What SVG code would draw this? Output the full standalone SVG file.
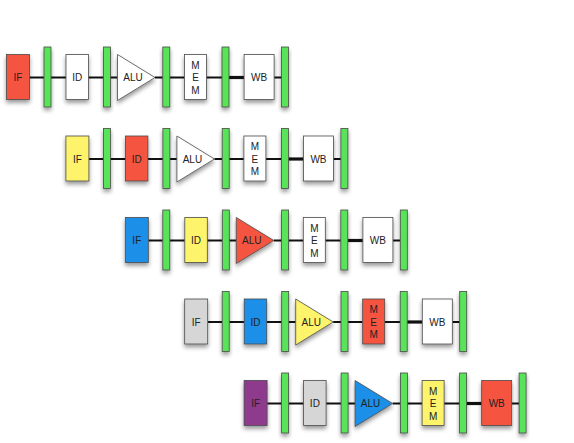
<svg xmlns="http://www.w3.org/2000/svg" width="574" height="443" viewBox="0 0 574 443">
<defs>
<filter id="sh" x="-50%" y="-50%" width="200%" height="200%">
<feDropShadow dx="0" dy="3" stdDeviation="2" flood-color="#000" flood-opacity="0.4"/>
</filter>
<style>
.s{stroke:#4a4a4a;stroke-width:0.8;filter:url(#sh)}
.bar{fill:#58E358}
.w{fill:#ffffff}
.r{fill:#F5543F}
.y{fill:#FDF46C}
.b{fill:#1C8FE8}
.g{fill:#D6D6D6}
.p{fill:#8E3B8E}
text{font-family:"Liberation Sans",Arial,sans-serif;font-size:10px;fill:#222;text-anchor:middle}
.ln{stroke:#111;stroke-width:2;fill:none}
.lt{stroke:#111;stroke-width:3.2;fill:none}
</style>
</defs>
<rect width="574" height="443" fill="#ffffff"/>
<g id="connectors">
<g transform="translate(6.5,77.5)">
<path class="ln" d="M23 0H37.5M44.5 0H59.5M82 0H97M104 0H111M148.5 0H156.3M163.3 0H178M200 0H215.5M267.6 0H275"/>
<path class="lt" d="M222.5 0H237.6"/>
</g>
<g transform="translate(65.9,159)">
<path class="ln" d="M23 0H37.5M44.5 0H59.5M82 0H97M104 0H111M148.5 0H156.3M163.3 0H178M200 0H215.5M267.6 0H275"/>
<path class="lt" d="M222.5 0H237.6"/>
</g>
<g transform="translate(125.3,240.5)">
<path class="ln" d="M23 0H37.5M44.5 0H59.5M82 0H97M104 0H111M148.5 0H156.3M163.3 0H178M200 0H215.5M267.6 0H275"/>
<path class="lt" d="M222.5 0H237.6"/>
</g>
<g transform="translate(184.7,322)">
<path class="ln" d="M23 0H37.5M44.5 0H59.5M82 0H97M104 0H111M148.5 0H156.3M163.3 0H178M200 0H215.5M267.6 0H275"/>
<path class="lt" d="M222.5 0H237.6"/>
</g>
<g transform="translate(244.1,403.5)">
<path class="ln" d="M23 0H37.5M44.5 0H59.5M82 0H97M104 0H111M148.5 0H156.3M163.3 0H178M200 0H215.5M267.6 0H275"/>
<path class="lt" d="M222.5 0H237.6"/>
</g>
</g>

<g id="row1" transform="translate(6.5,77.5)">
<g id="r1-if"><rect class="s r" x="0" y="-23" width="23" height="45"/><text x="11.5" y="3.6">IF</text></g>
<g id="r1-b1"><rect class="s bar" x="37.5" y="-30.5" width="7" height="60"/></g>
<g id="r1-id"><rect class="s w" x="59.5" y="-23" width="22.5" height="45"/><text x="70.75" y="3.6">ID</text></g>
<g id="r1-b2"><rect class="s bar" x="97" y="-30.5" width="7" height="60"/></g>
<g id="r1-alu"><polygon class="s w" points="111,-23 148.5,0 111,23"/><text x="126.5" y="3.6">ALU</text></g>
<g id="r1-b3"><rect class="s bar" x="156.3" y="-30.5" width="7" height="60"/></g>
<g id="r1-mem"><rect class="s w" x="178" y="-23" width="22" height="45"/><text x="189" y="-8.9">M</text><text x="189" y="3.6">E</text><text x="189" y="16.1">M</text></g>
<g id="r1-b4"><rect class="s bar" x="215.5" y="-30.5" width="7" height="60"/></g>
<g id="r1-wb"><rect class="s w" x="237.6" y="-23" width="30" height="45"/><text x="252.6" y="3.6">WB</text></g>
<g id="r1-b5"><rect class="s bar" x="275" y="-30.5" width="7" height="60"/></g>
</g>

<g id="row2" transform="translate(65.9,159)">
<g id="r2-if"><rect class="s y" x="0" y="-23" width="23" height="45"/><text x="11.5" y="3.6">IF</text></g>
<g id="r2-b1"><rect class="s bar" x="37.5" y="-30.5" width="7" height="60"/></g>
<g id="r2-id"><rect class="s r" x="59.5" y="-23" width="22.5" height="45"/><text x="70.75" y="3.6">ID</text></g>
<g id="r2-b2"><rect class="s bar" x="97" y="-30.5" width="7" height="60"/></g>
<g id="r2-alu"><polygon class="s w" points="111,-23 148.5,0 111,23"/><text x="126.5" y="3.6">ALU</text></g>
<g id="r2-b3"><rect class="s bar" x="156.3" y="-30.5" width="7" height="60"/></g>
<g id="r2-mem"><rect class="s w" x="178" y="-23" width="22" height="45"/><text x="189" y="-8.9">M</text><text x="189" y="3.6">E</text><text x="189" y="16.1">M</text></g>
<g id="r2-b4"><rect class="s bar" x="215.5" y="-30.5" width="7" height="60"/></g>
<g id="r2-wb"><rect class="s w" x="237.6" y="-23" width="30" height="45"/><text x="252.6" y="3.6">WB</text></g>
<g id="r2-b5"><rect class="s bar" x="275" y="-30.5" width="7" height="60"/></g>
</g>

<g id="row3" transform="translate(125.3,240.5)">
<g id="r3-if"><rect class="s b" x="0" y="-23" width="23" height="45"/><text x="11.5" y="3.6">IF</text></g>
<g id="r3-b1"><rect class="s bar" x="37.5" y="-30.5" width="7" height="60"/></g>
<g id="r3-id"><rect class="s y" x="59.5" y="-23" width="22.5" height="45"/><text x="70.75" y="3.6">ID</text></g>
<g id="r3-b2"><rect class="s bar" x="97" y="-30.5" width="7" height="60"/></g>
<g id="r3-alu"><polygon class="s r" points="111,-23 148.5,0 111,23"/><text x="126.5" y="3.6">ALU</text></g>
<g id="r3-b3"><rect class="s bar" x="156.3" y="-30.5" width="7" height="60"/></g>
<g id="r3-mem"><rect class="s w" x="178" y="-23" width="22" height="45"/><text x="189" y="-8.9">M</text><text x="189" y="3.6">E</text><text x="189" y="16.1">M</text></g>
<g id="r3-b4"><rect class="s bar" x="215.5" y="-30.5" width="7" height="60"/></g>
<g id="r3-wb"><rect class="s w" x="237.6" y="-23" width="30" height="45"/><text x="252.6" y="3.6">WB</text></g>
<g id="r3-b5"><rect class="s bar" x="275" y="-30.5" width="7" height="60"/></g>
</g>

<g id="row4" transform="translate(184.7,322)">
<g id="r4-if"><rect class="s g" x="0" y="-23" width="23" height="45"/><text x="11.5" y="3.6">IF</text></g>
<g id="r4-b1"><rect class="s bar" x="37.5" y="-30.5" width="7" height="60"/></g>
<g id="r4-id"><rect class="s b" x="59.5" y="-23" width="22.5" height="45"/><text x="70.75" y="3.6">ID</text></g>
<g id="r4-b2"><rect class="s bar" x="97" y="-30.5" width="7" height="60"/></g>
<g id="r4-alu"><polygon class="s y" points="111,-23 148.5,0 111,23"/><text x="126.5" y="3.6">ALU</text></g>
<g id="r4-b3"><rect class="s bar" x="156.3" y="-30.5" width="7" height="60"/></g>
<g id="r4-mem"><rect class="s r" x="178" y="-23" width="22" height="45"/><text x="189" y="-8.9">M</text><text x="189" y="3.6">E</text><text x="189" y="16.1">M</text></g>
<g id="r4-b4"><rect class="s bar" x="215.5" y="-30.5" width="7" height="60"/></g>
<g id="r4-wb"><rect class="s w" x="237.6" y="-23" width="30" height="45"/><text x="252.6" y="3.6">WB</text></g>
<g id="r4-b5"><rect class="s bar" x="275" y="-30.5" width="7" height="60"/></g>
</g>

<g id="row5" transform="translate(244.1,403.5)">
<g id="r5-if"><rect class="s p" x="0" y="-23" width="23" height="45"/><text x="11.5" y="3.6">IF</text></g>
<g id="r5-b1"><rect class="s bar" x="37.5" y="-30.5" width="7" height="60"/></g>
<g id="r5-id"><rect class="s g" x="59.5" y="-23" width="22.5" height="45"/><text x="70.75" y="3.6">ID</text></g>
<g id="r5-b2"><rect class="s bar" x="97" y="-30.5" width="7" height="60"/></g>
<g id="r5-alu"><polygon class="s b" points="111,-23 148.5,0 111,23"/><text x="126.5" y="3.6">ALU</text></g>
<g id="r5-b3"><rect class="s bar" x="156.3" y="-30.5" width="7" height="60"/></g>
<g id="r5-mem"><rect class="s y" x="178" y="-23" width="22" height="45"/><text x="189" y="-8.9">M</text><text x="189" y="3.6">E</text><text x="189" y="16.1">M</text></g>
<g id="r5-b4"><rect class="s bar" x="215.5" y="-30.5" width="7" height="60"/></g>
<g id="r5-wb"><rect class="s r" x="237.6" y="-23" width="30" height="45"/><text x="252.6" y="3.6">WB</text></g>
<g id="r5-b5"><rect class="s bar" x="275" y="-30.5" width="7" height="60"/></g>
</g>
</svg>
